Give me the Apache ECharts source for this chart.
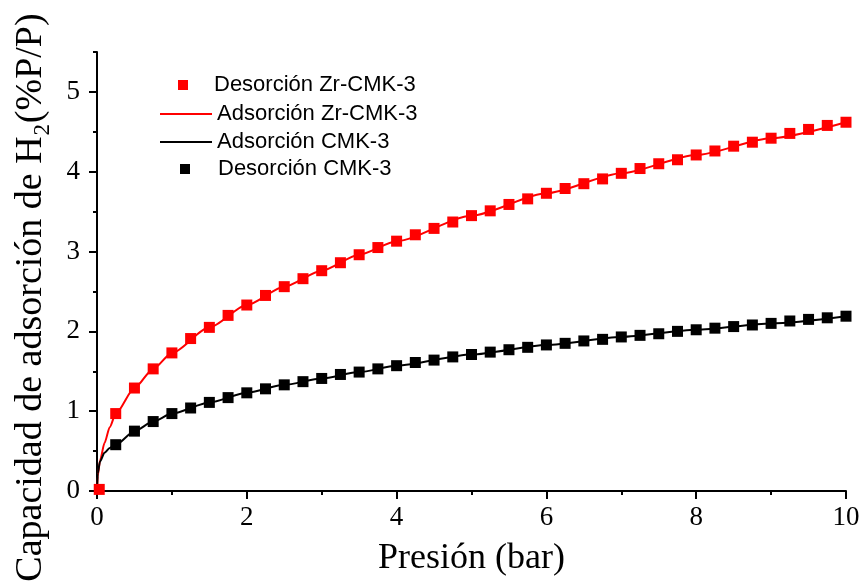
<!DOCTYPE html>
<html>
<head>
<meta charset="utf-8">
<script src="https://cdn.jsdelivr.net/npm/echarts@6/dist/echarts.min.js"></script>
<style>
  html, body { margin: 0; padding: 0; background: #fff; }
  #chart { width: 864px; height: 587px; }
</style>
</head>
<body>
<div id="chart"></div>
<script>
// presión (bar) de los puntos de desorción
var xDes = [0.25, 0.5, 0.75, 1.0, 1.25, 1.5, 1.75, 2.0, 2.25, 2.5,
            2.75, 3.0, 3.25, 3.5, 3.75, 4.0, 4.25, 4.5, 4.75, 5.0,
            5.25, 5.5, 5.75, 6.0, 6.25, 6.5, 6.75, 7.0, 7.25, 7.5,
            7.75, 8.0, 8.25, 8.5, 8.75, 9.0, 9.25, 9.5, 9.75, 10.0];
var desZr = [0.97, 1.29, 1.53, 1.73, 1.91, 2.05, 2.20, 2.33, 2.45, 2.56,
             2.66, 2.76, 2.86, 2.96, 3.05, 3.13, 3.21, 3.29, 3.37, 3.45,
             3.51, 3.59, 3.66, 3.73, 3.79, 3.85, 3.91, 3.98, 4.04, 4.10,
             4.15, 4.21, 4.26, 4.32, 4.37, 4.42, 4.48, 4.53, 4.58, 4.62];
var desCmk = [0.58, 0.75, 0.87, 0.97, 1.04, 1.11, 1.17, 1.23, 1.28, 1.33,
              1.37, 1.41, 1.46, 1.49, 1.53, 1.57, 1.61, 1.64, 1.68, 1.71,
              1.74, 1.77, 1.80, 1.83, 1.85, 1.88, 1.90, 1.93, 1.95, 1.97,
              2.00, 2.02, 2.04, 2.06, 2.08, 2.10, 2.13, 2.15, 2.17, 2.19];
// punto inicial de desorción Zr-CMK-3
var desZrStart = [0.03, 0.02];

// curvas de adsorción
var xAds = [0, 0.01, 0.04, 0.1, 0.17, 0.25, 0.5, 0.75, 1, 1.5, 2, 2.5, 3, 3.5, 4, 5, 6, 7, 8, 9, 10];
var adsZr = [0, 0.19, 0.38, 0.6, 0.8, 0.97, 1.29, 1.53, 1.73, 2.05, 2.33, 2.56, 2.76, 2.96, 3.13, 3.45, 3.73, 3.98, 4.21, 4.42, 4.62];
var adsCmk = [0, 0.22, 0.37, 0.48, 0.54, 0.58, 0.75, 0.87, 0.97, 1.11, 1.23, 1.33, 1.41, 1.49, 1.57, 1.71, 1.83, 1.93, 2.02, 2.10, 2.19];

var yMajor = [0, 1, 2, 3, 4, 5];

function pairs(xs, ys) {
    return xs.map(function (x, i) { return [x, ys[i]]; });
}

var serif = 'Liberation Serif';
var sans = 'Liberation Sans';

var chart = echarts.init(document.getElementById('chart'));

function legendRow(name, left, top, w, h, pad) {
    return {
        data: [{ name: name, icon: 'rect' }],
        orient: 'vertical',
        left: left,
        top: top,
        padding: 0,
        itemWidth: w,
        itemHeight: h,
        selectedMode: false,
        textStyle: { fontFamily: sans, fontSize: 22, color: '#000', padding: [0, 0, 0, pad] }
    };
}

chart.setOption({
    animation: false,
    backgroundColor: '#fff',
    grid: { left: 97, right: 18, top: 52, bottom: 96, outerBoundsMode: 'none' },
    legend: [
        legendRow('Desorción Zr-CMK-3', 178, 74, 10, 10, 21),
        legendRow('Adsorción Zr-CMK-3', 160, 103, 52, 2, 0),
        legendRow('Adsorción CMK-3', 160, 131, 52, 2, 0),
        legendRow('Desorción CMK-3', 180, 158, 10, 10, 23)
    ],
    xAxis: {
        type: 'value',
        min: 0,
        max: 10,
        interval: 2,
        name: 'Presión (bar)',
        nameLocation: 'middle',
        nameGap: 50,
        nameTextStyle: { fontFamily: serif, fontSize: 36, color: '#000' },
        axisLine: { lineStyle: { color: '#000', width: 2 } },
        axisTick: { length: 8, lineStyle: { color: '#000', width: 2 } },
        minorTick: { show: true, splitNumber: 2, length: 4, lineStyle: { color: '#000', width: 2 } },
        axisLabel: { fontFamily: serif, fontSize: 27, color: '#000', margin: 13 },
        splitLine: { show: false }
    },
    yAxis: [{
        type: 'value',
        min: 0,
        max: 5.5,
        interval: 0.5,
        name: 'Capacidad de adsorción de H₂(%P/P)',
        nameLocation: 'middle',
        nameGap: 47,
        nameTextStyle: { fontFamily: serif, fontSize: 38, color: '#000', padding: [0, 52, 0, 0] },
        axisLine: { show: true, lineStyle: { color: '#000', width: 2 } },
        axisTick: { length: 4, lineStyle: { color: '#000', width: 2 } },
        axisLabel: {
            fontFamily: serif, fontSize: 27, color: '#000', margin: 17,
            formatter: function (v) { return v % 1 === 0 ? String(v) : ''; }
        },
        splitLine: { show: false }
    }, {
        type: 'value',
        min: 0,
        max: 5.5,
        interval: 0.5,
        position: 'left',
        axisLine: { show: false },
        axisTick: { customValues: yMajor, length: 8, lineStyle: { color: '#000', width: 2 } },
        axisLabel: { show: false },
        splitLine: { show: false }
    }],
    series: [
        {
            name: 'Adsorción Zr-CMK-3',
            type: 'line',
            data: pairs(xAds, adsZr),
            symbol: 'none',
            smooth: 0.25,
            smoothMonotone: 'x',
            lineStyle: { color: '#ff0000', width: 2 },
            itemStyle: { color: '#ff0000' },
            z: 2
        },
        {
            name: 'Adsorción CMK-3',
            type: 'line',
            data: pairs(xAds, adsCmk),
            symbol: 'none',
            smooth: 0.25,
            smoothMonotone: 'x',
            lineStyle: { color: '#000', width: 2 },
            itemStyle: { color: '#000' },
            z: 2
        },
        {
            name: 'Desorción Zr-CMK-3',
            type: 'scatter',
            symbol: 'rect',
            symbolSize: 11,
            data: [desZrStart].concat(pairs(xDes, desZr)),
            itemStyle: { color: '#ff0000', opacity: 1 },
            z: 3
        },
        {
            name: 'Desorción CMK-3',
            type: 'scatter',
            symbol: 'rect',
            symbolSize: 11,
            data: pairs(xDes, desCmk),
            itemStyle: { color: '#000', opacity: 1 },
            z: 3
        }
    ]
});
</script>
</body>
</html>
